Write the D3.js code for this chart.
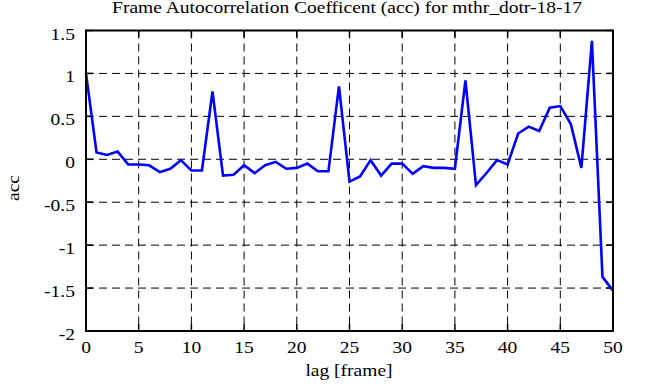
<html>
<head>
<script src="https://d3js.org/d3.v7.min.js"></script>
<style>
  body { margin: 0; background: #fff; }
  text { font-family: "Liberation Serif", "DejaVu Serif", serif; fill: #000; font-size: 16px; }
  .grid line { stroke: #000; stroke-width: 1; stroke-dasharray: 8,5; }
</style>
</head>
<body>
<svg id="chart" width="651" height="387"></svg>
<script>
// lag values 0..50 and autocorrelation coefficients
const lags = d3.range(0, 51);
const acc = [1.0, 0.08, 0.05, 0.09, -0.06, -0.06, -0.07, -0.15, -0.11, -0.01,
             -0.13, -0.13, 0.79, -0.19, -0.18, -0.07, -0.16, -0.07, -0.03, -0.11,
             -0.10, -0.05, -0.14, -0.14, 0.85, -0.26, -0.20, -0.01, -0.19, -0.05,
             -0.05, -0.17, -0.08, -0.10, -0.10, -0.11, 0.92, -0.30, -0.16, -0.01,
             -0.06, 0.30, 0.38, 0.33, 0.60, 0.62, 0.41, -0.10, 1.38, -1.37, -1.53];
const xTicks = [0, 5, 10, 15, 20, 25, 30, 35, 40, 45, 50];
const yTicks = [-2, -1.5, -1, -0.5, 0, 0.5, 1, 1.5];

const svg = d3.select("#chart");
const margin = { top: 30.5, right: 38, bottom: 56, left: 86 };
const w = 651 - margin.left - margin.right;
const h = 387 - margin.top - margin.bottom;
const g = svg.append("g").attr("transform", `translate(${margin.left},${margin.top})`);

const x = d3.scaleLinear().domain([0, 50]).range([0, w]);
const y = d3.scaleLinear().domain([-2, 1.5]).range([h, 0]);

// the original font is a wide bitmap Times, so stretch the glyphs a bit
const sx = 1.22;
function place(sel, fx, fy) {
  sel.attr("transform", (d, i) => `translate(${fx(d, i)},${fy(d, i)}) scale(${sx},1)`);
}

// dashed grid
g.append("g").attr("class", "grid")
  .selectAll("line").data(xTicks.slice(1, -1)).join("line")
  .attr("x1", d => x(d)).attr("x2", d => x(d)).attr("y1", 0).attr("y2", h);
g.append("g").attr("class", "grid")
  .selectAll("line").data(yTicks.slice(1, -1)).join("line")
  .attr("x1", 0).attr("x2", w).attr("y1", d => y(d)).attr("y2", d => y(d));

// inside ticks on all four sides
const tk = 7;
const ticks = g.append("g").attr("stroke", "#000").attr("stroke-width", 1.5);
xTicks.forEach(t => {
  ticks.append("line").attr("x1", x(t)).attr("x2", x(t)).attr("y1", h).attr("y2", h - tk);
  ticks.append("line").attr("x1", x(t)).attr("x2", x(t)).attr("y1", 0).attr("y2", tk);
});
yTicks.forEach(t => {
  ticks.append("line").attr("x1", 0).attr("x2", tk).attr("y1", y(t)).attr("y2", y(t));
  ticks.append("line").attr("x1", w).attr("x2", w - tk).attr("y1", y(t)).attr("y2", y(t));
});

// tick labels
g.selectAll("text.xl").data(xTicks).join("text")
  .attr("class", "xl").attr("text-anchor", "middle")
  .text(d => d)
  .call(place, d => x(d), () => h + 21.5);
g.selectAll("text.yl").data(yTicks).join("text")
  .attr("class", "yl").attr("text-anchor", "end")
  .text(d => d)
  .call(place, () => -11, d => y(d) + 9);

// data line
const line = d3.line().x((d, i) => x(lags[i])).y(d => y(d));
g.append("path").datum(acc)
  .attr("d", line)
  .attr("fill", "none")
  .attr("stroke", "#0000ff")
  .attr("stroke-width", 2.6);

// frame
g.append("rect").attr("x", 0).attr("y", 0).attr("width", w).attr("height", h)
  .attr("fill", "none").attr("stroke", "#000").attr("stroke-width", 2);

// titles
svg.append("text").attr("text-anchor", "middle")
  .text("Frame Autocorrelation Coefficent (acc) for mthr_dotr-18-17")
  .call(place, () => 347, () => 13);
svg.append("text").attr("text-anchor", "middle")
  .text("lag [frame]")
  .call(place, () => 349, () => 376);
svg.append("text").attr("text-anchor", "middle")
  .attr("transform", `translate(19,188) rotate(-90) scale(${sx},1)`)
  .text("acc");
</script>
</body>
</html>
